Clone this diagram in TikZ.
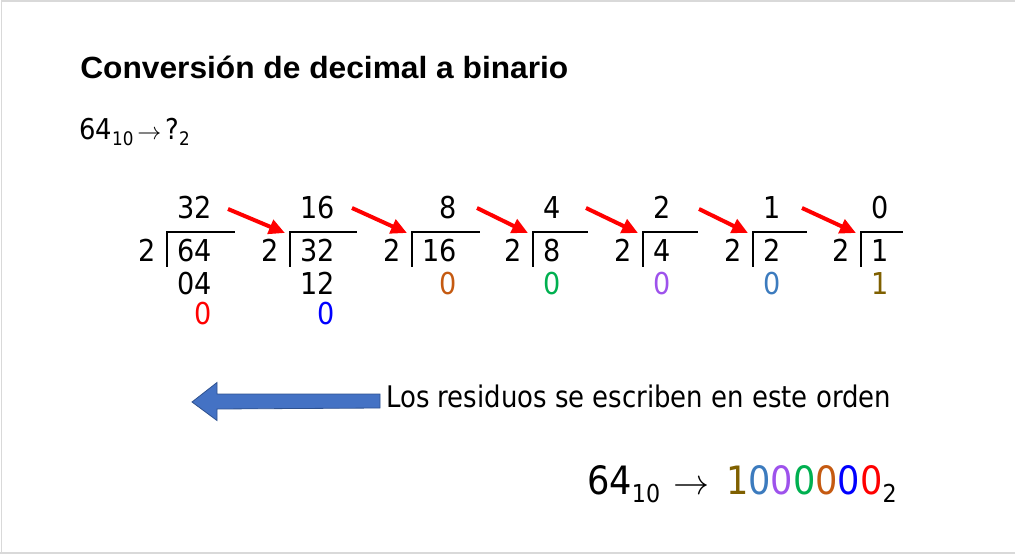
\documentclass[tikz,border=0pt]{standalone}
\usepackage{graphicx}
\usepackage{fontspec}
\setmainfont{DejaVu Sans Condensed}
\newfontfamily\headfont[FakeStretch=1.034]{Liberation Sans}
\newfontfamily\notefont[FakeStretch=0.97]{DejaVu Sans Condensed}
\usetikzlibrary{arrows.meta}

\definecolor{remred}{HTML}{FF0000}
\definecolor{remblue}{HTML}{0000FF}
\definecolor{remorange}{HTML}{C55A11}
\definecolor{remgreen}{HTML}{00B050}
\definecolor{rempurple}{HTML}{9E52EC}
\definecolor{remsteel}{HTML}{3C7BBE}
\definecolor{remolive}{HTML}{7F6000}
\definecolor{arrowfill}{HTML}{4472C4}
\definecolor{arrowedge}{HTML}{2F528F}
\definecolor{slideframe}{HTML}{D9D9D9}

\newcommand{\numsize}{\fontsize{22.6}{27}\selectfont}
\newcommand{\lowidx}[3]{\raisebox{-#1}{\fontsize{#2}{#2}\selectfont #3}}
\newcommand{\thinto}[1]{\resizebox{#1}{!}{$\rightarrow$}}

\begin{document}
\begin{tikzpicture}[x=0.75pt, y=-0.75pt,
    num/.style={inner sep=0pt, font=\numsize},
    bracket/.style={line width=2.2pt},
    jump/.style={draw=remred, line width=3pt, -{Triangle[length=12pt,width=11pt]}},
    back/.style={fill=arrowfill, draw=arrowedge, line width=0.6pt}]

    \useasboundingbox (0,0) rectangle (1015,556);
    \draw[slideframe, line width=1.2pt] (1.5,553) -- (1.5,1) -- (1015,1);
    \draw[slideframe, line width=1.2pt] (0,553) -- (1015,553);

    \node[inner sep=0pt, anchor=base west, font=\headfont\bfseries\fontsize{23}{28}\selectfont] (title) at (80,79) {Conversión de decimal a binario};
    \node[inner sep=0pt, anchor=base west, font=\fontsize{21.5}{26}\selectfont] (task) at (79,140)
        {64\lowidx{4.5pt}{14}{10}\kern3pt\thinto{18pt}\kern3pt?\lowidx{4.5pt}{14}{2}};

    \coordinate (k1) at (167,232);
    \coordinate (e1) at ([shift={(68,0)}]k1);
    \node[num, anchor=base west] (d1) at ([shift={(10,30)}]k1) {64};
    \node[num, anchor=base east] (v1) at ([shift={(-11,30)}]k1) {2};
    \node[num, anchor=base east] (q1) at ([shift={(0,-43)}]d1.base east) {32};
    \node[num, anchor=base east] (r1) at ([shift={(0,33)}]d1.base east) {04};
    \node[num, anchor=base east, text=remred] (b1) at ([shift={(0,30)}]r1.base east) {0};
    \draw[bracket] ([shift={(0,35)}]k1) -- (k1) -- (e1);

    \coordinate (k2) at (290,232);
    \coordinate (e2) at ([shift={(67,0)}]k2);
    \node[num, anchor=base west] (d2) at ([shift={(10,30)}]k2) {32};
    \node[num, anchor=base east] (v2) at ([shift={(-11,30)}]k2) {2};
    \node[num, anchor=base east] (q2) at ([shift={(0,-43)}]d2.base east) {16};
    \node[num, anchor=base east] (r2) at ([shift={(0,33)}]d2.base east) {12};
    \node[num, anchor=base east, text=remblue] (b2) at ([shift={(0,30)}]r2.base east) {0};
    \draw[bracket] ([shift={(0,35)}]k2) -- (k2) -- (e2);

    \coordinate (k3) at (412,232);
    \coordinate (e3) at ([shift={(68,0)}]k3);
    \node[num, anchor=base west] (d3) at ([shift={(10,30)}]k3) {16};
    \node[num, anchor=base east] (v3) at ([shift={(-11,30)}]k3) {2};
    \node[num, anchor=base east] (q3) at ([shift={(0,-43)}]d3.base east) {8};
    \node[num, anchor=base east, text=remorange] (r3) at ([shift={(0,33)}]d3.base east) {0};
    \draw[bracket] ([shift={(0,35)}]k3) -- (k3) -- (e3);

    \coordinate (k4) at (533,232);
    \coordinate (e4) at ([shift={(55,0)}]k4);
    \node[num, anchor=base west] (d4) at ([shift={(10,30)}]k4) {8};
    \node[num, anchor=base east] (v4) at ([shift={(-11,30)}]k4) {2};
    \node[num, anchor=base east] (q4) at ([shift={(0,-43)}]d4.base east) {4};
    \node[num, anchor=base east, text=remgreen] (r4) at ([shift={(0,33)}]d4.base east) {0};
    \draw[bracket] ([shift={(0,35)}]k4) -- (k4) -- (e4);

    \coordinate (k5) at (643,232);
    \coordinate (e5) at ([shift={(55,0)}]k5);
    \node[num, anchor=base west] (d5) at ([shift={(10,30)}]k5) {4};
    \node[num, anchor=base east] (v5) at ([shift={(-11,30)}]k5) {2};
    \node[num, anchor=base east] (q5) at ([shift={(0,-43)}]d5.base east) {2};
    \node[num, anchor=base east, text=rempurple] (r5) at ([shift={(0,33)}]d5.base east) {0};
    \draw[bracket] ([shift={(0,35)}]k5) -- (k5) -- (e5);

    \coordinate (k6) at (753,232);
    \coordinate (e6) at ([shift={(54,0)}]k6);
    \node[num, anchor=base west] (d6) at ([shift={(10,30)}]k6) {2};
    \node[num, anchor=base east] (v6) at ([shift={(-11,30)}]k6) {2};
    \node[num, anchor=base east] (q6) at ([shift={(0,-43)}]d6.base east) {1};
    \node[num, anchor=base east, text=remsteel] (r6) at ([shift={(0,33)}]d6.base east) {0};
    \draw[bracket] ([shift={(0,35)}]k6) -- (k6) -- (e6);

    \coordinate (k7) at (861,232);
    \coordinate (e7) at ([shift={(42,0)}]k7);
    \node[num, anchor=base west] (d7) at ([shift={(10,30)}]k7) {1};
    \node[num, anchor=base east] (v7) at ([shift={(-11,30)}]k7) {2};
    \node[num, anchor=base east] (q7) at ([shift={(0,-43)}]d7.base east) {0};
    \node[num, anchor=base east, text=remolive] (r7) at ([shift={(0,33)}]d7.base east) {1};
    \draw[bracket] ([shift={(0,35)}]k7) -- (k7) -- (e7);

    \draw[jump] ([shift={(-7,-23)}]e1) -- ([shift={(-5,1)}]k2);
    \draw[jump] ([shift={(-5,-24)}]e2) -- ([shift={(-5,1)}]k3);
    \draw[jump] ([shift={(-3,-24)}]e3) -- ([shift={(-5,1)}]k4);
    \draw[jump] ([shift={(-2,-24)}]e4) -- ([shift={(-5,1)}]k5);
    \draw[jump] ([shift={(1,-23)}]e5) -- ([shift={(-5,1)}]k6);
    \draw[jump] ([shift={(-5,-24)}]e6) -- ([shift={(-5,1)}]k7);

    \node[inner sep=0pt, anchor=base west, font=\notefont\fontsize{22.3}{27}\selectfont] (resid) at (386,407) {Los residuos se escriben en este orden};
    \coordinate (tail) at (380,401);
    \draw[back] ([shift={(0,-7)}]tail) -- ++(-163,0) -- ++(0,-11.5) -- ++(-25,19.5)
        -- ++(25,18.5) -- ++(0,-11.5) -- ([shift={(0,7)}]tail) -- cycle;

    \node[inner sep=0pt, anchor=base west, font=\fontsize{29.3}{35}\selectfont] (answer) at (587,494)
        {64\lowidx{6pt}{18.5}{10}\kern10pt\thinto{27pt}\kern12.5pt\textcolor{remolive}{1}\textcolor{remsteel}{0}\textcolor{rempurple}{0}\textcolor{remgreen}{0}\textcolor{remorange}{0}\textcolor{remblue}{0}\textcolor{remred}{0}\lowidx{6pt}{18.5}{2}};

\end{tikzpicture}
\end{document}
